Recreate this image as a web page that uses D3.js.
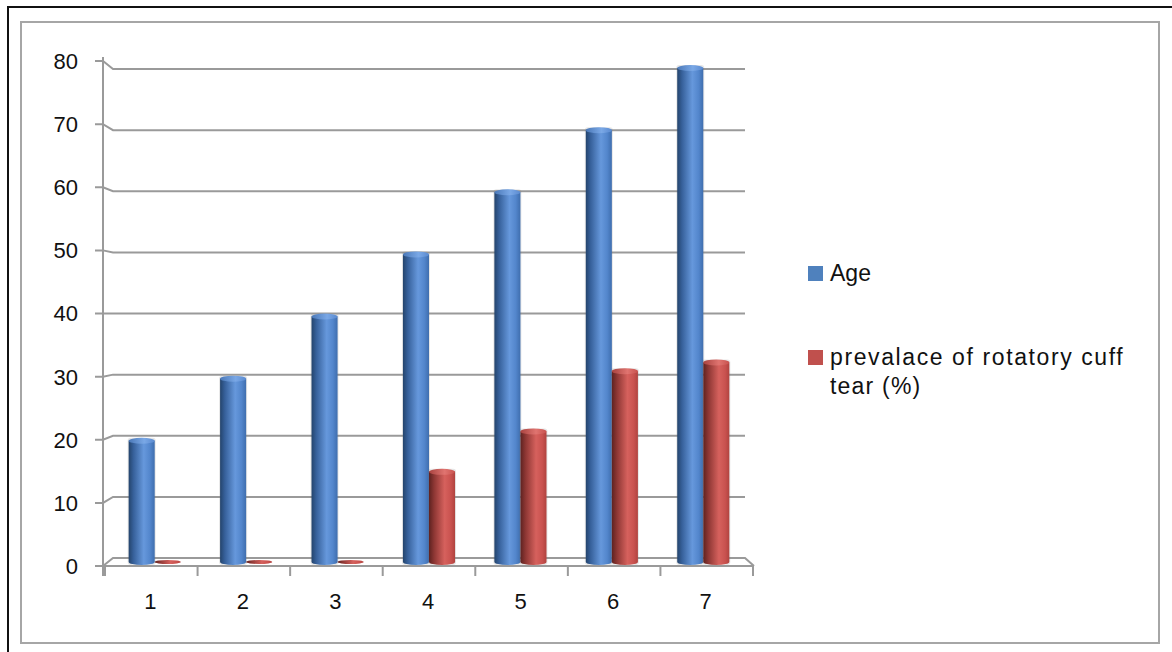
<!DOCTYPE html>
<html>
<head>
<meta charset="utf-8">
<script src="https://cdn.jsdelivr.net/npm/d3@7"></script>
<style>
  html, body { margin: 0; padding: 0; background: #fff; }
  svg { display: block; }
  text { font-family: "Liberation Sans", "DejaVu Sans", sans-serif; fill: #111; }
</style>
</head>
<body>
<svg id="chart" width="1172" height="652"></svg>
<script>
// Chart data
const categories = ["1", "2", "3", "4", "5", "6", "7"];
const ageValues = [20, 30, 40, 50, 60, 70, 80];
const prevalenceValues = [0, 0, 0, 15, 21.5, 31.2, 32.6];
const seriesNames = ["Age", "prevalace of rotatory cuff", "tear (%)"];
const yTicks = [0, 10, 20, 30, 40, 50, 60, 70, 80];

const svg = d3.select("#chart");

// Frames
svg.append("rect").attr("x", 8).attr("y", 7).attr("width", 1200).attr("height", 700)
  .attr("fill", "none").attr("stroke", "#111").attr("stroke-width", 2);
svg.append("rect").attr("x", 21).attr("y", 22).attr("width", 1138).attr("height", 621)
  .attr("fill", "#fff").attr("stroke", "#a6a6a6").attr("stroke-width", 2);

// Scales: front axis plane, back wall plane, and bar plane (mid depth)
const yFront = d3.scaleLinear().domain([0, 80]).range([566, 61]);
const yBack = d3.scaleLinear().domain([0, 80]).range([558, 69]);
const yBar = d3.scaleLinear().domain([0, 80]).range([562, 65]);
const xFront = d3.scaleBand().domain(categories).range([105, 753]);
const xBack = { left: 113, right: 745 };
const xBar = d3.scaleBand().domain(categories).range([109, 749])
  .paddingInner(0.43).paddingOuter(0.215);
const xSub = d3.scaleBand().domain(["age", "prev"]).range([0, xBar.bandwidth()]);

const grid = svg.append("g").attr("stroke", "#9a9a9a").attr("stroke-width", 2).attr("fill", "none");

// Back-wall gridlines joined to the front ticks
yTicks.forEach(t => {
  if (t === 0) return;
  grid.append("path").attr("d",
    `M${95},${yFront(t)} L${103},${yFront(t)} L${xBack.left},${yBack(t)} L${xBack.right},${yBack(t)}`);
});

// Floor
grid.append("path").attr("d",
  `M${xFront.range()[0] - 10},${yFront(0)} L${xFront.range()[1]},${yFront(0)}`);
grid.append("path").attr("d",
  `M${103},${yFront(0)} L${xBack.left},${yBack(0)} L${xBack.right},${yBack(0)} L${xFront.range()[1] + 1},${yFront(0)}`);

// Vertical axis line
grid.append("line").attr("x1", 103).attr("x2", 103).attr("y1", yFront(80) - 4).attr("y2", yFront(0) + 10);

// Category ticks
const catEdges = categories.map(c => xFront(c)).concat([xFront.range()[1]]);
catEdges.forEach(x => {
  grid.append("line").attr("x1", x).attr("x2", x).attr("y1", yFront(0)).attr("y2", yFront(0) + 10);
});

// Y tick labels
svg.append("g").selectAll("text").data(yTicks).join("text")
  .attr("x", 78).attr("y", d => yFront(d)).attr("dy", "0.36em")
  .attr("text-anchor", "end").attr("font-size", 22).text(d => d);

// X tick labels
svg.append("g").selectAll("text").data(categories).join("text")
  .attr("x", d => xFront(d) + xFront.bandwidth() / 2 - 1).attr("y", 601).attr("dy", "0.36em")
  .attr("text-anchor", "middle").attr("font-size", 22).text(d => d);

// Cylinder gradients
const defs = svg.append("defs");
function cylGrad(id, stops) {
  const g = defs.append("linearGradient").attr("id", id)
    .attr("x1", "0%").attr("x2", "100%").attr("y1", "0%").attr("y2", "0%");
  stops.forEach(([o, c]) => g.append("stop").attr("offset", o).attr("stop-color", c));
}
cylGrad("blueCyl", [["0%", "#24446c"], ["18%", "#36609a"], ["58%", "#6698dc"], ["82%", "#5386cc"], ["100%", "#3f6eae"]]);
cylGrad("redCyl", [["0%", "#5e2220"], ["20%", "#8e3734"], ["60%", "#d6615d"], ["84%", "#c9524f"], ["100%", "#b0433f"]]);
cylGrad("blueTop", [["0%", "#4a78b8"], ["60%", "#7aa8e6"], ["100%", "#5a8ad0"]]);
cylGrad("redTop", [["0%", "#a8423f"], ["60%", "#e07470"], ["100%", "#c8524e"]]);

const rows = categories.map((c, i) => ({ cat: c, age: ageValues[i], prev: prevalenceValues[i] }));
const bars = svg.append("g");
const ry = 3;

function drawCylinder(g, x, w, value, bodyId, topId) {
  const top = yBar(value);
  const bottom = yBar(0);
  if (bottom - top > ry) {
    g.append("rect").attr("x", x - 1).attr("y", top).attr("width", w + 2).attr("height", bottom - top + ry)
      .attr("rx", 3).attr("fill", "rgba(120,120,120,0.18)");
    g.append("path").attr("d",
      `M${x},${top + ry} L${x},${bottom} A${w / 2},${ry} 0 0 0 ${x + w},${bottom} L${x + w},${top + ry} Z`)
      .attr("fill", `url(#${bodyId})`);
    g.append("ellipse").attr("cx", x + w / 2).attr("cy", top + ry).attr("rx", w / 2).attr("ry", ry)
      .attr("fill", `url(#${topId})`);
  } else {
    g.append("ellipse").attr("cx", x + w / 2).attr("cy", bottom).attr("rx", w / 2).attr("ry", 2)
      .attr("fill", `url(#${bodyId})`);
  }
}

rows.forEach(r => {
  const x0 = xBar(r.cat);
  drawCylinder(bars, x0 + xSub("age"), xSub.bandwidth(), r.age, "blueCyl", "blueTop");
  drawCylinder(bars, x0 + xSub("prev"), xSub.bandwidth(), r.prev, "redCyl", "redTop");
});

// Legend
const legend = svg.append("g");
legend.append("rect").attr("x", 808).attr("y", 266).attr("width", 15).attr("height", 15).attr("fill", "#4f81bd");
legend.append("text").attr("x", 830).attr("y", 281).attr("font-size", 23).text(seriesNames[0]);
legend.append("rect").attr("x", 808).attr("y", 350).attr("width", 15).attr("height", 15).attr("fill", "#c0504d");
legend.append("text").attr("x", 830).attr("y", 365).attr("font-size", 23)
  .attr("letter-spacing", 1.6).text(seriesNames[1]);
legend.append("text").attr("x", 830).attr("y", 394).attr("font-size", 23)
  .attr("letter-spacing", 1.2).text(seriesNames[2]);
</script>
</body>
</html>
